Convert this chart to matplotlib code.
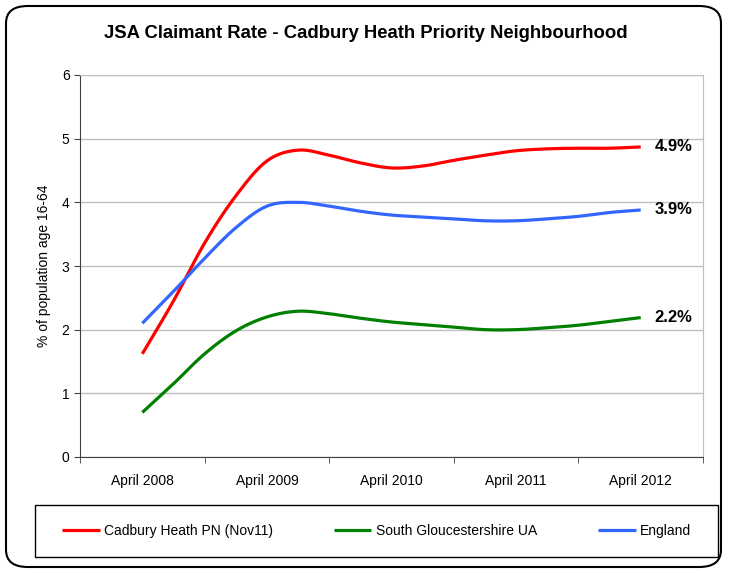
import numpy as np
import matplotlib
matplotlib.use("Agg")
import matplotlib.pyplot as plt
from matplotlib.patches import FancyBboxPatch, Rectangle

plt.rcParams['font.family'] = ['Liberation Sans', 'DejaVu Sans']

# Quarterly readings, April 2008 .. April 2012 (x in years since April 2008)
quarters = np.arange(17) * 0.25
year_labels = ["April 2008", "April 2009", "April 2010", "April 2011", "April 2012"]

cadbury = [1.62, 2.45, 3.36, 4.10, 4.65, 4.82, 4.74, 4.62, 4.54,
           4.57, 4.66, 4.74, 4.81, 4.84, 4.85, 4.85, 4.87]
south_glos = [0.70, 1.15, 1.62, 1.98, 2.20, 2.29, 2.25, 2.18, 2.12,
              2.08, 2.04, 2.00, 2.00, 2.03, 2.07, 2.13, 2.19]
england = [2.10, 2.60, 3.12, 3.60, 3.94, 4.00, 3.94, 3.86, 3.80,
           3.77, 3.74, 3.71, 3.71, 3.74, 3.78, 3.84, 3.88]

series_names = ["Cadbury Heath PN (Nov11)", "South Gloucestershire UA", "England"]
series_colors = ["#ff0000", "#008000", "#3366ff"]
end_labels = ["4.9%", "2.2%", "3.9%"]


def smooth(x, y, n=16):
    # Catmull-Rom style curve through the points (like Excel's smoothed line)
    x = np.asarray(x, float)
    y = np.asarray(y, float)
    px = np.concatenate([[2 * x[0] - x[1]], x, [2 * x[-1] - x[-2]]])
    py = np.concatenate([[2 * y[0] - y[1]], y, [2 * y[-1] - y[-2]]])
    xs, ys = [], []
    t = np.linspace(0, 1, n, endpoint=False)
    for i in range(1, len(px) - 2):
        for arr, out in ((px, xs), (py, ys)):
            p0, p1, p2, p3 = arr[i - 1], arr[i], arr[i + 1], arr[i + 2]
            out.extend(0.5 * (2 * p1 + (-p0 + p2) * t
                              + (2 * p0 - 5 * p1 + 4 * p2 - p3) * t ** 2
                              + (-p0 + 3 * p1 - 3 * p2 + p3) * t ** 3))
    xs.append(x[-1])
    ys.append(y[-1])
    return np.array(xs), np.array(ys)


fig = plt.figure(figsize=(7.29, 5.73), dpi=100)
ax = fig.add_axes([80 / 729, 1 - 457 / 573, 623 / 729, 382 / 573])

for vals, name, col, lab in zip([cadbury, south_glos, england], series_names,
                                series_colors, end_labels):
    sx, sy = smooth(quarters, vals)
    ax.plot(sx, sy, color=col, lw=2.3, label=name, solid_capstyle='butt')
    ax.text(quarters[-1] + 0.11, vals[-1], lab, fontsize=12, fontweight='bold',
            va='center', ha='left')

ax.set_xlim(-0.5, 4.5)
ax.set_ylim(0, 6)
ax.set_yticks(range(7))
ax.set_xticks(range(5))
ax.set_xticklabels(year_labels, fontsize=10)
ax.set_xticks(np.arange(-0.5, 4.6, 1), minor=True)
ax.tick_params(axis='x', which='major', length=0, pad=12)
ax.tick_params(axis='x', which='minor', length=4, direction='out', color='#404040')
ax.tick_params(axis='y', length=4, direction='out', labelsize=10, color='#404040')
ax.grid(axis='y', color='#c0c0c0', lw=1)
ax.set_axisbelow(True)
for s in ['top', 'right']:
    ax.spines[s].set_color('#c0c0c0')
for s in ['left', 'bottom']:
    ax.spines[s].set_color('#404040')
ax.set_ylabel("% of population age 16-64", fontsize=10, labelpad=8)

fig.text(366 / 729, 1 - 33 / 573, "JSA Claimant Rate - Cadbury Heath Priority Neighbourhood",
         fontsize=13.3, fontweight='bold', ha='center', va='center')

# legend box
fig.patches.append(Rectangle((35 / 729, 1 - 557 / 573), 683 / 729, 52 / 573,
                             transform=fig.transFigure, fill=False,
                             edgecolor='black', lw=1))
handles, labels = ax.get_legend_handles_labels()
fig.legend(handles, labels, ncol=3, loc='center',
           bbox_to_anchor=((35 + 683 / 2) / 729, 1 - 531 / 573),
           fontsize=10, frameon=False, handlelength=2.7, handletextpad=0.3,
           columnspacing=4.4)

border = FancyBboxPatch((6 / 729, 6 / 573), 715 / 729, 561 / 573,
                        boxstyle="round,pad=0,rounding_size=0.03",
                        transform=fig.transFigure, fill=False,
                        edgecolor='black', lw=1.5)
fig.patches.append(border)

fig.savefig("out.png", dpi=100)
